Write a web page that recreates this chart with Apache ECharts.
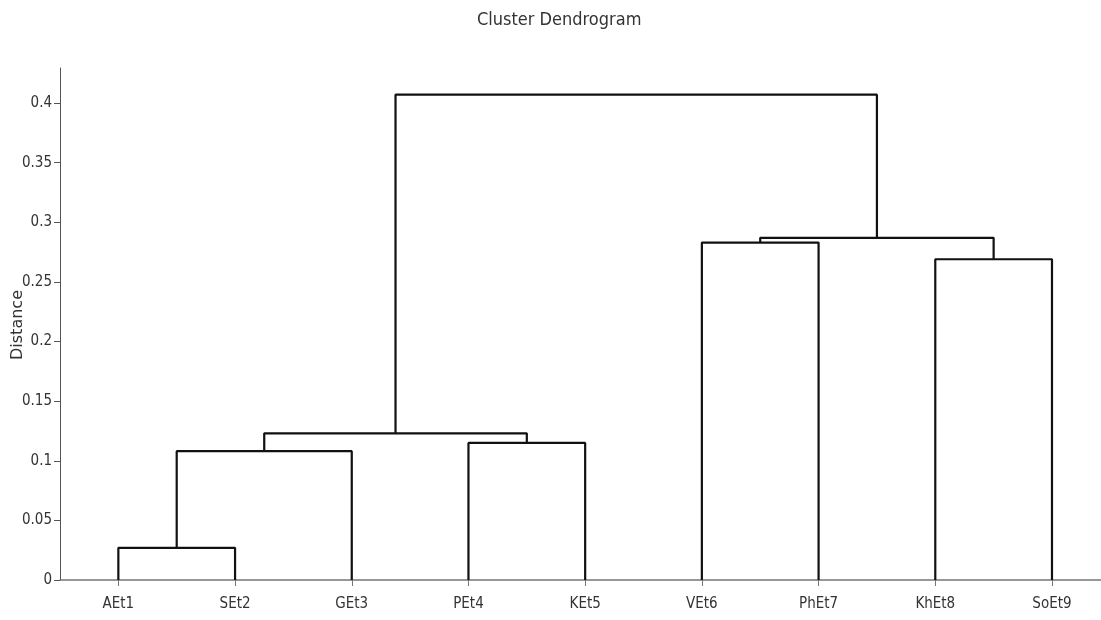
<!DOCTYPE html>
<html>
<head>
<meta charset="utf-8">
<script src="https://cdn.jsdelivr.net/npm/echarts@6/dist/echarts.min.js"></script>
<style>
  html, body { margin: 0; padding: 0; background: #fff; }
  #main { width: 1101px; height: 620px; }
</style>
</head>
<body>
<div id="main"></div>
<script>
// leaves, in plotting order
const leaves = ['AEt1', 'SEt2', 'GEt3', 'PEt4', 'KEt5', 'VEt6', 'PhEt7', 'KhEt8', 'SoEt9'];
// hclust-style merge table: negative = leaf index (1-based), positive = earlier merge
const mergeA = [-1, -3, -4, 2, -6, -8, 5, 4];
const mergeB = [-2, 1, -5, 3, -7, -9, 6, 7];
const heights = [0.027, 0.108, 0.115, 0.123, 0.283, 0.269, 0.287, 0.407];
const yTicks = [0, 0.05, 0.1, 0.15, 0.2, 0.25, 0.3, 0.35, 0.4];

const narrow = "'Liberation Sans Narrow', 'DejaVu Sans Condensed', sans-serif";

function nodeX(n) {
    if (n < 0) return -n - 1;
    return (nodeX(mergeA[n - 1]) + nodeX(mergeB[n - 1])) / 2;
}
function nodeY(n) {
    return n < 0 ? 0 : heights[n - 1];
}

const series = heights.map(function (h, i) {
    const a = mergeA[i], b = mergeB[i];
    return {
        type: 'line',
        symbol: 'none',
        silent: true,
        lineStyle: { color: '#111', width: 2.2 },
        data: [[nodeX(a), nodeY(a)], [nodeX(a), h], [nodeX(b), h], [nodeX(b), nodeY(b)]]
    };
});

const chart = echarts.init(document.getElementById('main'));
chart.setOption({
    animation: false,
    backgroundColor: '#fff',
    title: {
        text: 'Cluster Dendrogram',
        left: 472,
        top: 6,
        textStyle: { fontFamily: narrow, fontSize: 18, fontWeight: 'normal', color: '#333' }
    },
    // y-axis title, rotated like the original
    graphic: [{
        type: 'text',
        x: 18,
        y: 325,
        rotation: Math.PI / 2,
        style: {
            text: 'Distance',
            fill: '#333',
            font: "16px 'DejaVu Sans'",
            align: 'center',
            verticalAlign: 'middle'
        }
    }],
    grid: { left: 60, right: 0, top: 68, bottom: 40, outerBoundsMode: 'none', containLabel: false },
    xAxis: {
        type: 'value',
        min: -0.5,
        max: 8.42,
        splitLine: { show: false },
        axisLine: { onZero: false, lineStyle: { color: '#777', width: 1.5 } },
        axisTick: { customValues: leaves.map(function (d, i) { return i; }), length: 6, lineStyle: { color: '#777' } },
        axisLabel: {
            customValues: leaves.map(function (d, i) { return i; }),
            formatter: function (v) { return leaves[Math.round(v)]; },
            fontFamily: narrow, fontSize: 15, color: '#333', margin: 17
        }
    },
    yAxis: {
        type: 'value',
        min: 0,
        max: 0.4294,
        splitLine: { show: false },
        axisLine: { show: true, onZero: false, lineStyle: { color: '#555', width: 1 } },
        axisTick: { show: true, customValues: yTicks, length: 6, lineStyle: { color: '#555' } },
        axisLabel: { customValues: yTicks, fontFamily: narrow, fontSize: 15, color: '#333', margin: 8 }
    },
    series: series
});
</script>
</body>
</html>
